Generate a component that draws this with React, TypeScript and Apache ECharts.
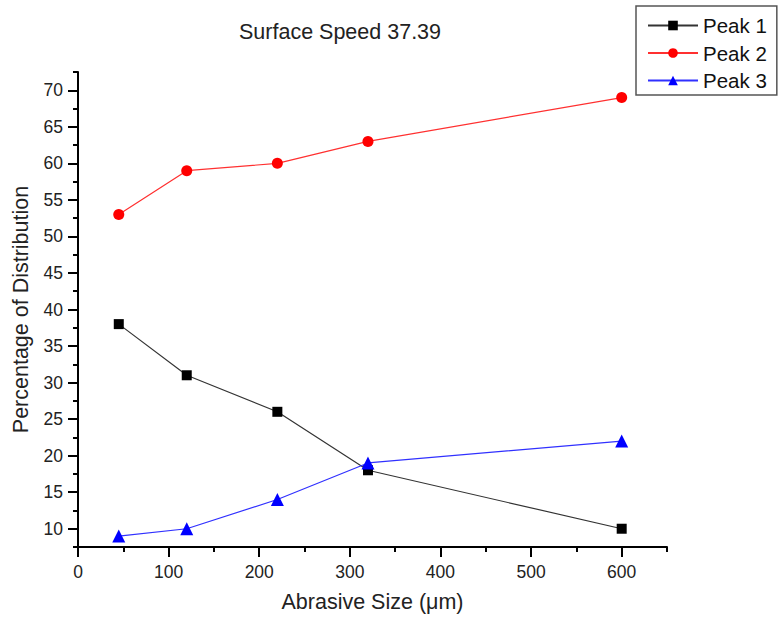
import React, { useEffect, useRef } from "react";
import * as echarts from "echarts";

const titleText = "Surface Speed 37.39";
const xName = "Abrasive Size (μm)";
const yName = "Percentage of Distribution";
const seriesNames = ["Peak 1", "Peak 2", "Peak 3"];
const abrasiveSizes = [45, 120, 220, 320, 600];
const peak1 = [38, 31, 26, 18, 10];
const peak2 = [53, 59, 60, 63, 69];
const peak3 = [9, 10, 14, 19, 22];
const xRange = [0, 650];
const yRange = [7.5, 72.5];
const xMajorTicks = [0, 100, 200, 300, 400, 500, 600];
const xMinorTicks = [50, 150, 250, 350, 450, 550, 650];
const yMajorTicks = [10, 15, 20, 25, 30, 35, 40, 45, 50, 55, 60, 65, 70];
const yMinorTicks = [7.5, 12.5, 17.5, 22.5, 27.5, 32.5, 37.5, 42.5, 47.5, 52.5, 57.5, 62.5, 67.5, 72.5];

const FONT = "'Liberation Sans', Arial, Helvetica, sans-serif";

export default function App() {
  const ref = useRef<HTMLDivElement>(null);
  useEffect(() => {
    if (!ref.current) return;
    const chart = echarts.init(ref.current, undefined, { renderer: "svg" });
    const pairs = (ys: number[]) => abrasiveSizes.map((x, i) => [x, ys[i]]);
    const lineColors = ["#333333", "#ff3030", "#3030ff"];
    const markColors = ["#000000", "#ff0000", "#0000ff"];
    const symbols = ["rect", "circle", "triangle"];
    const sizes = [10, 11, 13];
    const data = [peak1, peak2, peak3];
    const axisLine = { show: true, lineStyle: { color: "#000", width: 2 } };
    chart.setOption({
      animation: false,
      backgroundColor: "#ffffff",
      textStyle: { fontFamily: FONT },
      title: {
        text: titleText,
        left: 239,
        top: 21,
        padding: 0,
        textStyle: { fontSize: 21.5, fontWeight: "normal", color: "#222", fontFamily: FONT },
      },
      legend: {
        orient: "vertical",
        left: 636,
        top: 6,
        padding: [9, 10, 4, 11],
        itemWidth: 50,
        itemHeight: 12,
        itemGap: 6.5,
        backgroundColor: "#fff",
        borderColor: "#555",
        borderWidth: 1.5,
        borderRadius: 0,
        textStyle: { fontSize: 20.5, lineHeight: 20, color: "#111", fontFamily: FONT },
        data: seriesNames,
      },
      grid: { left: 78, right: 111, top: 72, bottom: 77, containLabel: false },
      xAxis: [
        {
          type: "value",
          min: xRange[0],
          max: xRange[1],
          position: "bottom",
          name: xName,
          nameLocation: "middle",
          nameGap: 44,
          nameTextStyle: { fontSize: 21.5, color: "#222", fontFamily: FONT },
          axisLine,
          axisTick: { show: true, length: 10, lineStyle: { color: "#000", width: 2 }, customValues: xMajorTicks },
          axisLabel: { fontSize: 17.5, color: "#222", margin: 16, fontFamily: FONT, customValues: xMajorTicks },
          splitLine: { show: false },
        },
        {
          type: "value",
          min: xRange[0],
          max: xRange[1],
          position: "bottom",
          offset: 0,
          axisLine: { show: false },
          axisTick: { show: true, length: 5, lineStyle: { color: "#000", width: 2 }, customValues: xMinorTicks },
          axisLabel: { show: false },
          splitLine: { show: false },
        },
      ],
      yAxis: [
        {
          type: "value",
          min: yRange[0],
          max: yRange[1],
          position: "left",
          name: yName,
          nameLocation: "middle",
          nameGap: 46,
          nameTextStyle: { fontSize: 21.5, color: "#222", fontFamily: FONT },
          axisLine,
          axisTick: { show: true, length: 10, lineStyle: { color: "#000", width: 2 }, customValues: yMajorTicks },
          axisLabel: { fontSize: 17.5, color: "#222", margin: 15, fontFamily: FONT, customValues: yMajorTicks },
          splitLine: { show: false },
        },
        {
          type: "value",
          min: yRange[0],
          max: yRange[1],
          position: "left",
          offset: 0,
          axisLine: { show: false },
          axisTick: { show: true, length: 5, lineStyle: { color: "#000", width: 2 }, customValues: yMinorTicks },
          axisLabel: { show: false },
          splitLine: { show: false },
        },
      ],
      series: seriesNames.map((name, i) => ({
        name,
        type: "line",
        xAxisIndex: 0,
        yAxisIndex: 0,
        data: pairs(data[i]),
        symbol: symbols[i],
        symbolSize: sizes[i],
        showAllSymbol: true,
        lineStyle: { color: lineColors[i], width: 1.2 },
        itemStyle: { color: markColors[i], borderWidth: 0 },
        color: markColors[i],
        emphasis: { disabled: true },
        z: 2 + i,
      })),
    });
    return () => chart.dispose();
  }, []);
  return (
    <div
      ref={ref}
      style={{ position: "fixed", left: 0, top: 0, width: 778, height: 624, background: "#fff" }}
    />
  );
}
